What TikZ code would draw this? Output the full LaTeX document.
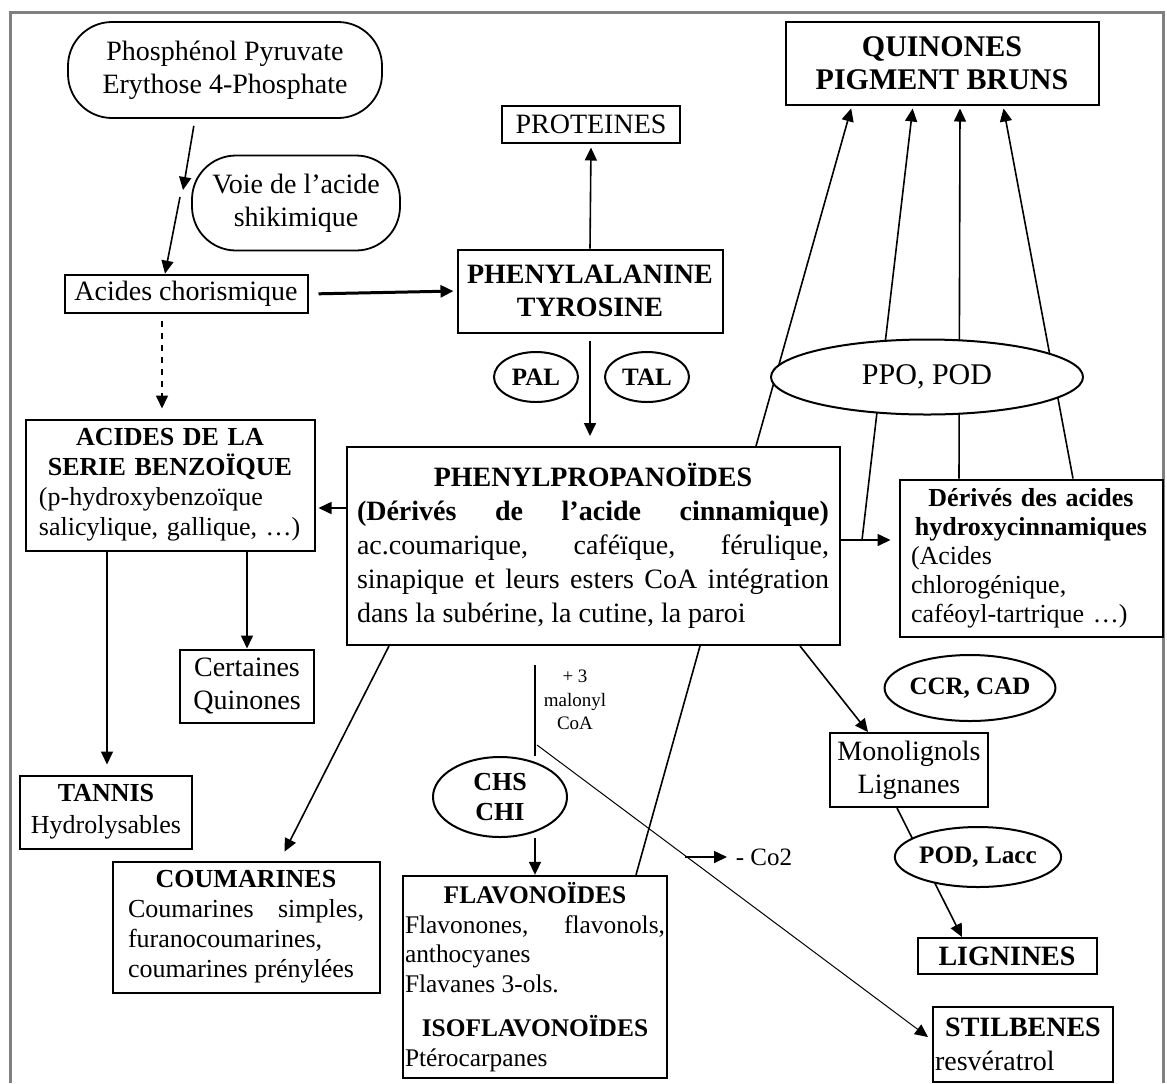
\documentclass[tikz,border=0pt]{standalone}
\usepackage{fontspec}
\setmainfont{Liberation Serif}
\usetikzlibrary{shapes.geometric,arrows.meta}

\begin{document}
\begin{tikzpicture}[x=0.5pt,y=-0.5pt,line width=0.8pt,>={Triangle[length=6.5pt,width=6pt]}]
  \useasboundingbox (0,0) rectangle (1167,1083);
  \draw[line width=1.5pt,gray] (10,1083) -- (10,12) -- (1163,12) -- (1163,1083);

  \begin{scope}[every node/.style={draw,line width=0.9pt,rounded corners=22pt,align=center,font=\fontsize{14}{16.5}\selectfont}]
    \node[minimum width=157pt,minimum height=48pt] (pep) at (225,70) {Phosphénol Pyruvate\\Erythose 4-Phosphate};
    \node[minimum width=104pt,minimum height=47.5pt] (voie) at (296,203) {Voie de l’acide\\shikimique};
  \end{scope}

  \begin{scope}[every node/.style={draw,line width=1pt,align=center,font=\fontsize{14}{16.5}\selectfont}]
    \node[minimum width=121.5pt,minimum height=17.5pt] (chor) at (186,294) {Acides chorismique};
    \node[minimum width=89pt,minimum height=18.5pt] (prot) at (591,124) {PROTEINES};
    \node[minimum width=132.5pt,minimum height=41.5pt,font=\fontsize{14}{16.5}\selectfont\bfseries] (phe) at (590,291) {PHENYLALANINE\\TYROSINE};
    \node[minimum width=156.5pt,minimum height=41.5pt,font=\fontsize{15}{16.5}\selectfont\bfseries] (quin) at (942,63) {QUINONES\\PIGMENT BRUNS};
    \node[minimum width=67pt,minimum height=36.5pt] (cert) at (247,686) {Certaines\\Quinones};
    \node[minimum width=86pt,minimum height=36.5pt,font=\fontsize{13}{16}\selectfont] (tann) at (106,812) {\textbf{TANNIS}\\Hydrolysables};
    \node[minimum width=79pt,minimum height=37pt] (mono) at (909,770) {Monolignols\\Lignanes};
    \node[minimum width=89.5pt,minimum height=18pt,font=\fontsize{14}{16.5}\selectfont\bfseries] (lign) at (1007,956) {LIGNINES};
  \end{scope}

  \begin{scope}[every node/.style={draw,line width=1pt,align=justify,font=\fontsize{13}{15}\selectfont}]
    \node[minimum width=144.5pt,minimum height=65.5pt,text width=131pt,align=left] (benz) at (170,485)
      {{\centering\textbf{ACIDES DE LA}\\\textbf{SERIE BENZOÏQUE}\par}\noindent(p-hydroxybenzoïque\\salicylique, gallique, …)};
    \node[minimum width=246.5pt,minimum height=99pt,text width=236pt,font=\fontsize{14}{17}\selectfont] (phpr) at (593,546)
      {{\centering\textbf{PHENYLPROPANOÏDES}\par}\noindent\textbf{(Dérivés de l’acide cinnamique)}\linebreak ac.coumarique, caféïque, férulique,\linebreak sinapique et leurs esters CoA intégration\linebreak dans la subérine, la cutine, la paroi};
    \node[minimum width=131.5pt,minimum height=78.5pt,text width=120pt,align=left,font=\fontsize{13}{14.5}\selectfont] (hydr) at (1031,558)
      {{\centering\textbf{Dérivés des acides}\\\textbf{hydroxycinnamiques}\par}\noindent(Acides\\chlorogénique,\\caféoyl-tartrique …)};
    \node[minimum width=133.5pt,minimum height=65.5pt,text width=118pt] (coum) at (246,927)
      {{\centering\textbf{COUMARINES}\par}\noindent Coumarines simples,\linebreak furanocoumarines,\\coumarines prénylées};
    \node[minimum width=132pt,minimum height=100pt,text width=130pt,inner xsep=1pt,font=\fontsize{12.7}{14.75}\selectfont] (flav) at (535,977)
      {{\centering\textbf{FLAVONOÏDES}\par}\noindent Flavonones, flavonols,\linebreak anthocyanes\\Flavanes 3-ols.\par\vspace{7.5pt}{\centering\textbf{ISOFLAVONOÏDES}\par}\noindent Ptérocarpanes};
    \node[minimum width=90pt,minimum height=37.5pt,text width=88pt,inner xsep=1pt,align=left,font=\fontsize{14}{17}\selectfont] (stil) at (1023,1044)
      {{\centering\textbf{STILBENES}\par}\noindent resvératrol};
  \end{scope}

  \begin{scope}[every node/.style={draw,ellipse,line width=1pt,fill=white,inner sep=0pt,align=center,font=\fontsize{12.5}{15}\selectfont\bfseries}]
    \node[minimum width=42pt,minimum height=25pt] (pal) at (536,377) {PAL};
    \node[minimum width=42pt,minimum height=25pt] (tal) at (647,377) {TAL};
    \node[minimum width=67pt,minimum height=40pt,font=\fontsize{13}{15}\selectfont\bfseries] (chs) at (500,797) {CHS\\CHI};
    \node[minimum width=70pt,minimum height=33pt] (ccr) at (970,688) {CCR, CAD};
  \end{scope}

  \node[align=center,font=\fontsize{9.5}{11.75}\selectfont] (malo) at (575,700) {+ 3\\malonyl\\CoA};
  \node[anchor=west,inner sep=0pt,font=\fontsize{12.5}{15}\selectfont] (co2) at (735,857) {- Co2};

  \coordinate (v1) at (183,190);
  \coordinate (v2) at (180,197);
  \coordinate (hj) at (862,540);
  \coordinate (mtop) at (535,665);
  \coordinate (mjoin) at (537,745);
  \coordinate (co2s) at (685,857);

  \draw[->,shorten <=3.5pt] (pep.south -| 195,0) -- (v1);
  \draw[->] (v2) -- (chor.north -| 165,0);
  \draw[->,line width=1.5pt,shorten <=5pt,shorten >=1.5pt] (chor.east) -- (phe.west);
  \draw[->,dashed,shorten <=3.5pt,shorten >=5pt] (chor.south -| 162,0) -- (benz.north -| 162,0);
  \draw[->,shorten >=2pt] (phe.north) -- (prot.south);
  \draw[->,shorten <=3.5pt,shorten >=5pt] (phe.south) -- (phe.south |- phpr.north);
  \draw[->,shorten >=1.5pt] (phpr.west |- 0,508) -- (benz.east |- 0,508);
  \draw[->,shorten >=4pt] (phpr.east |- 0,540) -- (hydr.west |- 0,540);
  \draw[->] (benz.south -| 247,0) -- (cert.north);
  \draw[->,shorten >=5pt] (benz.south -| 107,0) -- (tann.north -| 107,0);
  \draw[->,shorten >=5pt] (phpr.south -| 389,0) -- (coum.north -| 280,0);
  \draw (flav.north -| 636,0) -- (phpr.south -| 700,0);
  \draw[->] (phpr.south -| 800,0) -- (mono.north -| 868,0);
  \draw[->] (mono.south -| 897,0) -- (lign.north -| 962,0);
  \draw[->,shorten >=1.5pt] (phpr.north -| 756,0) -- (quin.south -| 852,0);
  \draw[->,shorten >=1.5pt] (hj) -- (quin.south -| 913,0);
  \draw[->,shorten >=1.5pt] (hydr.north -| 959,0) -- (quin.south -| 960,0);
  \draw[->,shorten >=1.5pt] (hydr.north -| 1073,0) -- (quin.south -| 1003,0);
  \draw (mtop) -- (mtop |- chs.north);
  \draw[->] (mtop |- chs.south) -- (mtop |- flav.north);
  \draw[->,line width=0.5pt,shorten >=2.5pt] (mjoin) -- (stil.west |- 0,1040);
  \draw[->,shorten >=4pt] (co2s) -- (co2.west);

  \begin{scope}[every node/.style={draw,ellipse,line width=1pt,fill=white,inner sep=0pt,align=center}]
    \node[minimum width=156pt,minimum height=37.5pt,font=\fontsize{15}{17}\selectfont] (ppo) at (927,377) {PPO, POD};
    \node[minimum width=70pt,minimum height=30pt,font=\fontsize{12.6}{15}\selectfont\bfseries] (podl) at (978,857) {POD, Lacc};
  \end{scope}
\end{tikzpicture}
\end{document}
